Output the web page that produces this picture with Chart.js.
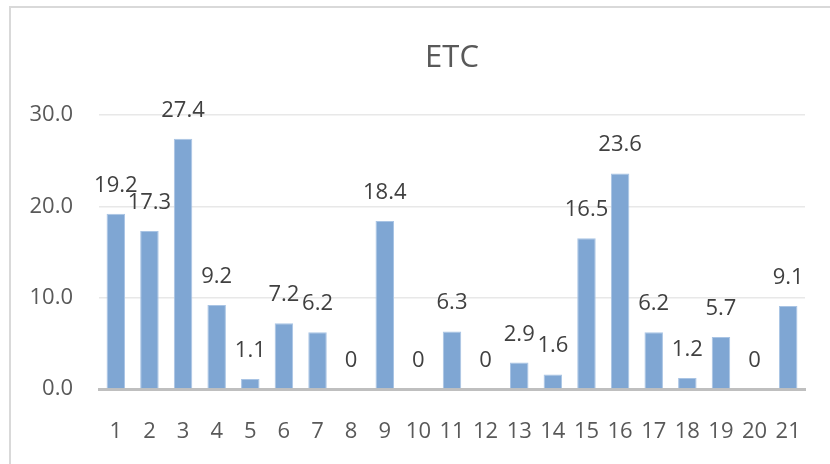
<!DOCTYPE html>
<html>
<head>
<meta charset="utf-8">
<script src="https://cdn.jsdelivr.net/npm/chart.js@4.4.0/dist/chart.umd.min.js"></script>
<style>
  html, body { margin: 0; padding: 0; background: #fff; }
  #wrap { position: relative; width: 830px; height: 464px; overflow: hidden; }
  #frame { position: absolute; left: 9px; top: 6px; width: 840px; height: 480px;
           border-left: 2px solid #d9d9d9; border-top: 2px solid #d9d9d9; }
  canvas { position: absolute; left: 0; top: 0; }
</style>
</head>
<body>
<div id="wrap">
  <div id="frame"></div>
  <canvas id="barChart" width="830" height="464"></canvas>
</div>
<script>
// chart data
const chartTitle = 'ETC';
const categories = ['1', '2', '3', '4', '5', '6', '7', '8', '9', '10', '11',
                    '12', '13', '14', '15', '16', '17', '18', '19', '20', '21'];
const etcValues = [19.2, 17.3, 27.4, 9.2, 1.1, 7.2, 6.2, 0, 18.4, 0, 6.3,
                   0, 2.9, 1.6, 16.5, 23.6, 6.2, 1.2, 5.7, 0, 9.1];
const yTicks = [0, 10, 20, 30];

const fontFamily = '"Open Sans", "Noto Sans", sans-serif';

// Draws the title and the value above each bar
const labelsPlugin = {
    id: 'etcLabels',
    afterDatasetsDraw(chart) {
        const ctx = chart.ctx;
        ctx.save();
        ctx.fillStyle = '#595959';
        ctx.font = '31px ' + fontFamily;
        ctx.textAlign = 'center';
        ctx.textBaseline = 'alphabetic';
        ctx.fillText(chartTitle, (chart.chartArea.left + chart.chartArea.right) / 2, 67);

        const meta = chart.getDatasetMeta(0);
        ctx.fillStyle = '#404040';
        ctx.font = '22px ' + fontFamily;
        meta.data.forEach((bar, i) => {
            const v = etcValues[i];
            const txt = v === 0 ? '0' : v.toFixed(1);
            ctx.fillText(txt, bar.x, bar.y - 22);
        });
        ctx.restore();
    }
};

const ctxBar = document.getElementById('barChart').getContext('2d');
const barChart = new Chart(ctxBar, {
    type: 'bar',
    data: {
        labels: categories,
        datasets: [{
            label: chartTitle,
            data: etcValues,
            backgroundColor: '#7fa6d3',
            borderColor: '#a9c4e4',
            borderWidth: 1,
            categoryPercentage: 1.0,
            barPercentage: 0.55
        }]
    },
    options: {
        responsive: false,
        animation: false,
        layout: { padding: { left: 0, right: 25, top: 115, bottom: 0 } },
        plugins: {
            legend: { display: false },
            title: { display: false },
            tooltip: { enabled: false }
        },
        scales: {
            x: {
                grid: { display: false },
                border: { display: true, color: '#bfbfbf', width: 3 },
                ticks: {
                    color: '#595959',
                    font: { family: fontFamily, size: 22 },
                    padding: 22,
                    maxRotation: 0,
                    autoSkip: false
                },
                afterFit(scale) { scale.height = 75; }
            },
            y: {
                min: 0,
                max: 30,
                afterBuildTicks(scale) {
                    scale.ticks = yTicks.map(v => ({ value: v }));
                },
                grid: { color: '#e8e8e8', lineWidth: 1.5, drawTicks: false },
                border: { display: false },
                ticks: {
                    color: '#595959',
                    font: { family: fontFamily, size: 22 },
                    padding: 26,
                    callback: v => Number(v).toFixed(1)
                },
                afterFit(scale) { scale.width = 99; }
            }
        }
    },
    plugins: [labelsPlugin]
});
</script>
</body>
</html>
